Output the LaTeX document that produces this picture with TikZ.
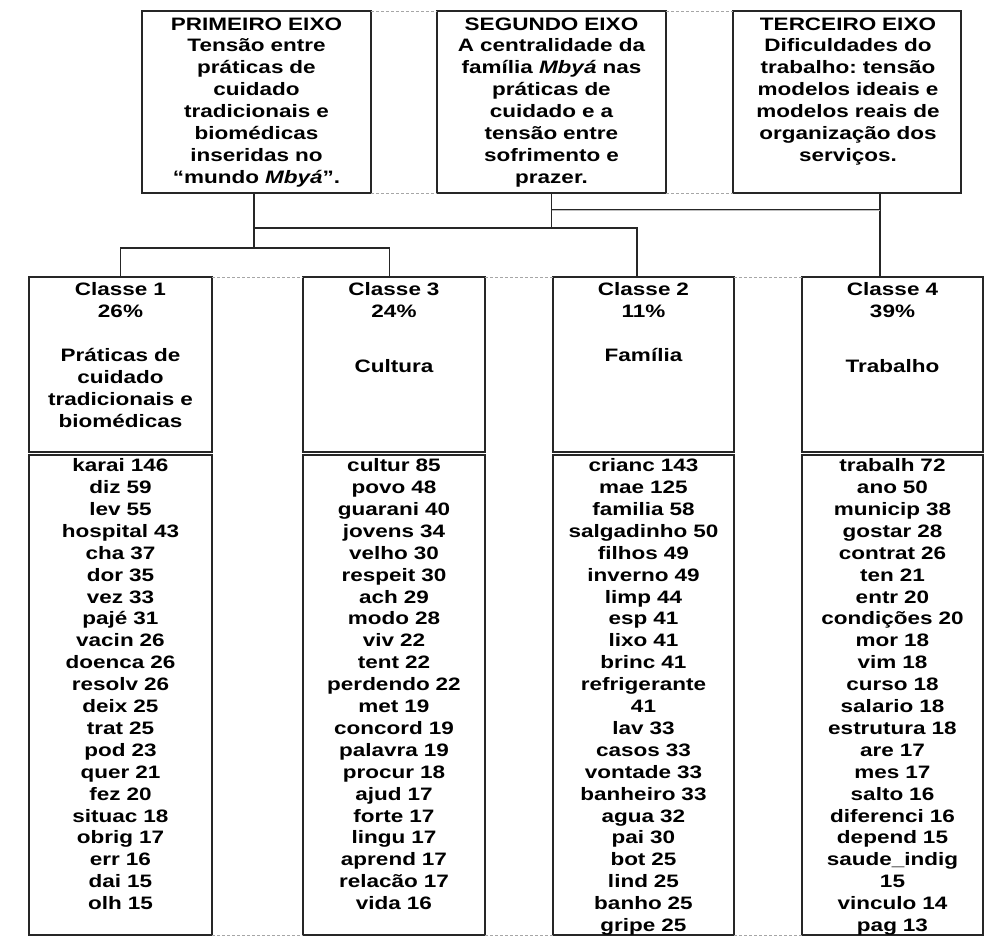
\documentclass[tikz,border=0pt]{standalone}
\usepackage{fontspec}
\setmainfont{Liberation Sans}[FakeStretch=1.25]
\frenchspacing
\begin{document}
\begin{tikzpicture}[x=1pt,y=-1pt,
  box/.style={draw=black!85, line width=1.3pt, inner sep=0pt, outer sep=0pt},
  txt/.style={anchor=north, inner sep=0pt, text width=220pt, align=center,
    font=\fontsize{18}{21.9}\selectfont\bfseries, text=black},
  link/.style={draw=black!85, line width=1.3pt},
  dbl/.style={draw=black!85, line width=0.9pt, double=black!25, double distance=0.7pt},
  gridline/.style={draw=black!35, dash pattern=on 3pt off 2pt, line width=0.8pt}]
\useasboundingbox (0,0) rectangle (985,938);

% top boxes
\node[box, minimum width=229pt, minimum height=182pt] (b1) at (256.5,102) {};
\node[box, minimum width=229pt, minimum height=182pt] (b2) at (551.5,102) {};
\node[box, minimum width=228pt, minimum height=182pt] (b3) at (847,102) {};

\node[txt] (t1) at (256.5,13.8) {\rule{0pt}{16pt}PRIMEIRO EIXO\\Tensão entre\\práticas de\\cuidado\\tradicionais e\\biomédicas\\inseridas no\\“mundo \textit{Mbyá}”.};
\node[txt] (t2) at (551.5,13.8) {\rule{0pt}{16pt}SEGUNDO EIXO\\A centralidade da\\família \textit{Mbyá} nas\\práticas de\\cuidado e a\\tensão entre\\sofrimento e\\prazer.};
\node[txt] (t3) at (848,13.8) {\rule{0pt}{16pt}TERCEIRO EIXO\\Dificuldades do\\trabalho: tensão\\modelos ideais e\\modelos reais de\\organização dos\\serviços.};

% class header boxes
\node[box, minimum width=183pt, minimum height=175pt] (c1) at (120.5,364.5) {};
\node[box, minimum width=182pt, minimum height=175pt] (c3) at (394,364.5) {};
\node[box, minimum width=181pt, minimum height=175pt] (c2) at (643.5,364.5) {};
\node[box, minimum width=181pt, minimum height=175pt] (c4) at (892.5,364.5) {};

% list boxes
\node[box, minimum width=183pt, minimum height=480pt] (l1) at (120.5,695) {};
\node[box, minimum width=182pt, minimum height=480pt] (l3) at (394,695) {};
\node[box, minimum width=181pt, minimum height=480pt] (l2) at (643.5,695) {};
\node[box, minimum width=181pt, minimum height=480pt] (l4) at (892.5,695) {};

% header texts
\node[txt] (h1) at (120.5,279.7) {\rule{0pt}{16pt}Classe 1\\26\%\\[21.9pt]Práticas de\\cuidado\\tradicionais e\\biomédicas};
\node[txt] (h3) at (394,279.7) {\rule{0pt}{16pt}Classe 3\\24\%\\[32.4pt]Cultura};
\node[txt] (h2) at (643.5,279.7) {\rule{0pt}{16pt}Classe 2\\11\%\\[21.9pt]Família};
\node[txt] (h4) at (892.5,279.7) {\rule{0pt}{16pt}Classe 4\\39\%\\[32.4pt]Trabalho};

% word lists
\node[txt] (w1) at (120.5,455.4) {\rule{0pt}{16pt}karai 146\\diz 59\\lev 55\\hospital 43\\cha 37\\dor 35\\vez 33\\pajé 31\\vacin 26\\doenca 26\\resolv 26\\deix 25\\trat 25\\pod 23\\quer 21\\fez 20\\situac 18\\obrig 17\\err 16\\dai 15\\olh 15};
\node[txt] (w3) at (394,455.4) {\rule{0pt}{16pt}cultur 85\\povo 48\\guarani 40\\jovens 34\\velho 30\\respeit 30\\ach 29\\modo 28\\viv 22\\tent 22\\perdendo 22\\met 19\\concord 19\\palavra 19\\procur 18\\ajud 17\\forte 17\\lingu 17\\aprend 17\\relacão 17\\vida 16};
\node[txt] (w2) at (643.5,455.4) {\rule{0pt}{16pt}crianc 143\\mae 125\\familia 58\\salgadinho 50\\filhos 49\\inverno 49\\limp 44\\esp 41\\lixo 41\\brinc 41\\refrigerante\\41\\lav 33\\casos 33\\vontade 33\\banheiro 33\\agua 32\\pai 30\\bot 25\\lind 25\\banho 25\\gripe 25};
\node[txt] (w4) at (892.5,455.4) {\rule{0pt}{16pt}trabalh 72\\ano 50\\municip 38\\gostar 28\\contrat 26\\ten 21\\entr 20\\condições 20\\mor 18\\vim 18\\curso 18\\salario 18\\estrutura 18\\are 17\\mes 17\\salto 16\\diferenci 16\\depend 15\\saude\_indig\\15\\vinculo 14\\pag 13};

% connectors
\coordinate (p1) at (254,248);
\coordinate (p2) at (254,228);
\coordinate (p3) at (551.5,210);
\draw[link] ([xshift=-2.5pt]b1.south) -- (p1);
\draw[link] (c1.north) |- (p1) -| ([xshift=-4.5pt]c3.north);
\draw[link] (p2) -| ([xshift=-6.5pt]c2.north);
\draw[link] (b2.south) -- (b2.south |- p2);
\draw[link] ([xshift=33pt]b3.south) -- ([xshift=-12.5pt]c4.north);
\draw[dbl] (p3) -- ([xshift=-12.5pt]c4.north |- p3);

% table grid lines
\draw[gridline] (b1.north east) -- (b2.north west);
\draw[gridline] (b2.north east) -- (b3.north west);
\draw[gridline] (b1.south east) -- (b2.south west);
\draw[gridline] (b2.south east) -- (b3.south west);
\draw[gridline] (c1.north east) -- (c3.north west);
\draw[gridline] (c3.north east) -- (c2.north west);
\draw[gridline] (c2.north east) -- (c4.north west);
\draw[gridline] (l1.south east) -- (l3.south west);
\draw[gridline] (l3.south east) -- (l2.south west);
\draw[gridline] (l2.south east) -- (l4.south west);
\end{tikzpicture}
\end{document}
